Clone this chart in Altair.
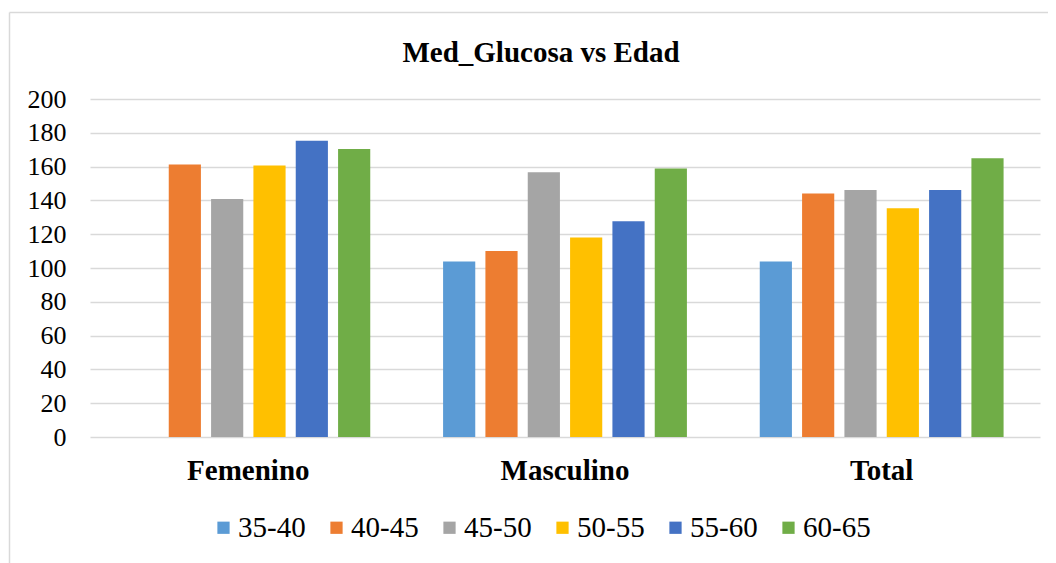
import altair as alt
import pandas as pd

groups = ["Femenino", "Masculino", "Total"]
ages = ["35-40", "40-45", "45-50", "50-55", "55-60", "60-65"]
colors = ["#5B9BD5", "#ED7D31", "#A5A5A5", "#FFC000", "#4472C4", "#70AD47"]

femenino = [None, 161.3, 140.8, 160.7, 175.3, 170.4]
masculino = [103.9, 110.0, 156.6, 118.1, 127.7, 158.9]
total = [103.9, 144.1, 146.1, 135.4, 146.1, 164.9]

rows = []
for g, vals in zip(groups, [femenino, masculino, total]):
    for a, v in zip(ages, vals):
        if v is not None:
            rows.append({"Grupo": g, "Edad": a, "Glucosa": v})
df = pd.DataFrame(rows)

FONT = "Liberation Serif"

bars = alt.Chart(df).mark_bar().encode(
    x=alt.X("Grupo:N", sort=groups,
            scale=alt.Scale(paddingInner=0.23, paddingOuter=0.115),
            axis=alt.Axis(title=None, labelAngle=0, labelFont=FONT, labelFontSize=29,
                          labelFontWeight="bold", labelColor="#000000", labelPadding=19,
                          ticks=False, domain=False, grid=False)),
    xOffset=alt.XOffset("Edad:N", sort=ages,
                        scale=alt.Scale(domain=ages, paddingInner=0.24, paddingOuter=0)),
    y=alt.Y("Glucosa:Q", scale=alt.Scale(domain=[0, 200]),
            axis=alt.Axis(title=None, values=list(range(0, 201, 20)), labelFont=FONT,
                          labelFontSize=26, labelColor="#000000", labelPadding=24,
                          ticks=False, domain=False, grid=True, gridColor="#d9d9d9",
                          gridWidth=1.5)),
    color=alt.Color("Edad:N", sort=ages,
                    scale=alt.Scale(domain=ages, range=colors),
                    legend=alt.Legend(title=None, orient="none", direction="horizontal",
                                      legendX=119, legendY=414, symbolType="square",
                                      symbolSize=150, symbolStrokeWidth=0,
                                      labelFont=FONT, labelFontSize=29, labelColor="#000000",
                                      labelOffset=0, columnPadding=16)),
)

border = alt.Chart(pd.DataFrame({"k": [0]})).mark_rule(color="#d9d9d9", strokeWidth=1.5).encode(
    x=alt.value(-80.5), y=alt.value(-86.5), y2=alt.value(470)
)
border_top = alt.Chart(pd.DataFrame({"k": [0]})).mark_rule(color="#d9d9d9", strokeWidth=1.5).encode(
    x=alt.value(-80.5), x2=alt.value(970), y=alt.value(-86.5)
)

chart = alt.layer(bars, border, border_top).properties(
    width=950, height=338,
    title=alt.TitleParams("Med_Glucosa vs Edad", font=FONT, fontSize=29, fontWeight="bold",
                          color="#000000", anchor="middle", frame="group", dx=-24, offset=-56),
    autosize=alt.AutoSizeParams(type="none"),
    padding={"left": 82, "top": 91, "right": 8, "bottom": 126},
).configure_view(stroke=None)

chart.save("out.html", embed_options={"renderer": "svg", "actions": False})
